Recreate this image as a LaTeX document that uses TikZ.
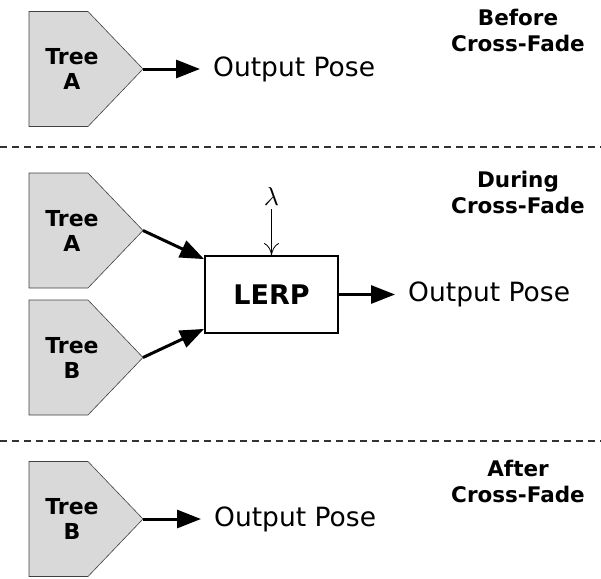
\documentclass[tikz,border=0pt]{standalone}
\usepackage{fontspec}
\setmainfont{DejaVu Sans}
\usetikzlibrary{arrows.meta,positioning}

\begin{document}
\begin{tikzpicture}[
  x=1pt, y=-1pt,
  treeshape/.style={draw=black!75, fill=black!15, line width=0.6pt},
  treelabel/.style={font=\fontsize{22}{25}\selectfont\bfseries, align=center, inner sep=0pt},
  flow/.style={line width=3pt, -{Triangle[length=24pt,width=18pt]}},
  weight/.style={line width=0.8pt, -{Computer Modern Rightarrow[length=12pt,width=15pt]}},
  outlabel/.style={font=\fontsize{26.5}{30}\selectfont, anchor=west, inner xsep=13pt, inner ysep=0pt},
  phase/.style={font=\fontsize{21.5}{26}\selectfont\bfseries, align=center},
  lerpbox/.style={draw, line width=1.8pt, minimum width=133pt, minimum height=77pt, font=\fontsize{27}{30}\selectfont\bfseries},
  divider/.style={draw=black!80, line width=1.5pt, dash pattern=on 7pt off 5pt}
]
  \useasboundingbox (0,0) rectangle (601,578);
  % the animation trees, one per row
  \foreach \nm/\cy/\lt in {a1/69/A, a2/230.5/A, b2/357.5/B, b3/519/B} {
    \draw[treeshape] (29,\cy-57.5) -- (88,\cy-57.5) -- (143,\cy) -- (88,\cy+57.5) -- (29,\cy+57.5) -- cycle;
    \node[treelabel] (tree\nm) at (72,\cy) {Tree\\\lt};
    \coordinate (tip\nm) at (143,\cy);
  }
  \draw[divider] (0,147) -- (601,147);
  \draw[divider] (0,441) -- (601,441);
  % before
  \node[outlabel] (out1) at (200,69) {Output Pose};
  \draw[flow] (tipa1) -- (out1.west);
  \node[phase] (before) at (518,30) {Before\\Cross-Fade};
  % during
  \node[lerpbox] (lerp) at (271.5,294.5) {LERP};
  \node[inner sep=4pt] (lam) at (271.5,196) {\scalebox{2.6}{$\lambda$}};
  \draw[weight] (lam) -- (lerp.north);
  \draw[flow] (tipa2) -- ([yshift=-4pt]lerp.north west);
  \draw[flow] (tipb2) -- ([yshift=5pt]lerp.south west);
  \node[outlabel] (out2) at (395,294.5) {Output Pose};
  \draw[flow] (lerp.east) -- (out2.west);
  \node[phase] (during) at (518,192) {During\\Cross-Fade};
  % after
  \node[outlabel] (out3) at (201,519) {Output Pose};
  \draw[flow] (tipb3) -- (out3.west);
  \node[phase] (after) at (518,481) {After\\Cross-Fade};
\end{tikzpicture}
\end{document}
